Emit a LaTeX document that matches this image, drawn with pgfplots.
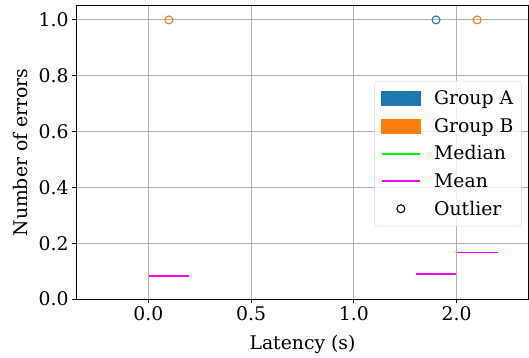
\documentclass[border=0pt]{standalone}
\usepackage{fontspec}
\setmainfont{DejaVu Serif}
\usepackage{pgfplots}
\pgfplotsset{compat=1.18}
\definecolor{cA}{HTML}{1F77B4}
\definecolor{cB}{HTML}{FF7F0E}
\definecolor{cMed}{HTML}{00FF00}
\definecolor{cMean}{HTML}{FF00FF}
\definecolor{gridc}{HTML}{B0B0B0}
\newcommand{\fs}{\fontsize{19}{23}\selectfont}
\begin{document}
\begin{tikzpicture}
\begin{axis}[
  scale only axis,
  width=455bp, height=295bp,
  xmin=-0.7, xmax=3.7, ymin=0, ymax=1.05,
  xtick={0,1,2,3}, xticklabels={0.0,0.5,1.0,2.0},
  ytick={0,0.2,0.4,0.6,0.8,1.0},
  yticklabel style={/pgf/number format/.cd,fixed,fixed zerofill,precision=1},
  /pgf/number format/assume math mode=true,
  tick label style={font=\fs},
  xlabel style={font=\fs, at={(axis description cs:0.5,-0.122)}, anchor=north, inner sep=0pt},
  ylabel style={font=\fs, at={(axis description cs:-0.1407,0.5)}, anchor=north, inner sep=0pt},
  xlabel={Latency (s)}, ylabel={Number of errors},
  grid=major, major grid style={gridc, line width=1bp},
  tick align=outside, major tick length=4.5bp,
  tick style={black, line width=1bp},
  xtick pos=bottom, ytick pos=left,
  axis line style={line width=1bp},
  axis on top,
  legend style={font=\fs, at={(0.659,0.744)}, anchor=north west,
    draw=gridc!50, rounded corners=3bp, fill=white, fill opacity=0.8, text opacity=1,
    row sep=8.2bp, inner xsep=6bp, inner ysep=7.5bp,
    /tikz/every odd column/.append style={column sep=11bp}},
  legend cell align=left,
]
% boxes (all values zero -> flat), medians and zero means
\addplot[forget plot, draw=cA!50!black, line width=1bp] coordinates {(-0.4,0) (0,0)};
\addplot[forget plot, draw=cB!50!black, line width=1bp] coordinates {(0,0) (0.4,0)};
\addplot[forget plot, draw=cA!50!black, line width=1bp] coordinates {(0.6,0) (1,0)};
\addplot[forget plot, draw=cB!50!black, line width=1bp] coordinates {(1,0) (1.4,0)};
\addplot[forget plot, draw=cA!50!black, line width=1bp] coordinates {(1.6,0) (2,0)};
\addplot[forget plot, draw=cB!50!black, line width=1bp] coordinates {(2,0) (2.4,0)};
\addplot[forget plot, draw=cA!50!black, line width=1bp] coordinates {(2.6,0) (3,0)};
\addplot[forget plot, draw=cB!50!black, line width=1bp] coordinates {(3,0) (3.4,0)};
% means
\addplot[forget plot, draw=cMean, line width=2bp] coordinates {(0,0.0833) (0.4,0.0833)};
\addplot[forget plot, draw=cMean, line width=2bp] coordinates {(2.6,0.0895) (3,0.0895)};
\addplot[forget plot, draw=cMean, line width=2bp] coordinates {(3,0.1667) (3.4,0.1667)};
% outliers
\addplot[forget plot, only marks, mark=o, mark size=4bp, draw=cA, line width=1.1bp] coordinates {(2.8,1.0)};
\addplot[forget plot, only marks, mark=o, mark size=4bp, draw=cB, line width=1.1bp] coordinates {(0.2,1.0) (3.2,1.0)};
% legend
\addlegendimage{legend image code/.code={\fill[cA, sharp corners, fill opacity=1] (0,-7bp) rectangle (39bp,7bp);}}
\addlegendentry{Group A}
\addlegendimage{legend image code/.code={\fill[cB, sharp corners, fill opacity=1] (0,-7bp) rectangle (39bp,7bp);}}
\addlegendentry{Group B}
\addlegendimage{legend image code/.code={\draw[draw=cMed, draw opacity=1, sharp corners, line width=2bp] (0,0) -- (39bp,0);}}
\addlegendentry{Median}
\addlegendimage{legend image code/.code={\draw[draw=cMean, draw opacity=1, sharp corners, line width=2bp] (0,0) -- (39bp,0);}}
\addlegendentry{Mean}
\addlegendimage{legend image code/.code={\draw[draw=black, draw opacity=1, line width=1.1bp] (19.5bp,0) circle (4bp);}}
\addlegendentry{Outlier}
\end{axis}
\useasboundingbox (current axis.south west) ++(-77bp,-59bp) rectangle ([xshift=-3bp,yshift=6bp]current axis.north east);
\end{tikzpicture}
\end{document}
